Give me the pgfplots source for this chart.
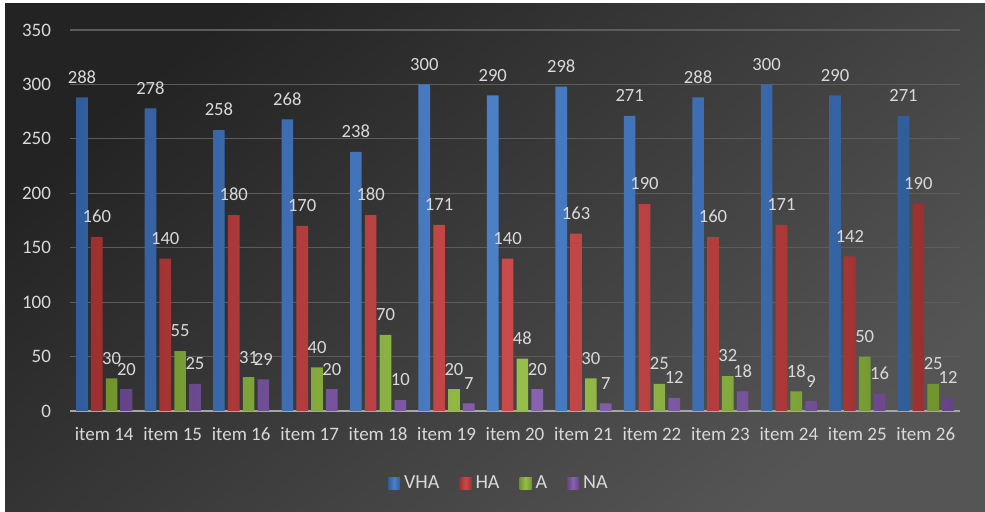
\documentclass[border=0pt]{standalone}
\usepackage{fontspec}
\setmainfont{Carlito}
\usepackage{pgfplots}
\pgfplotsset{compat=1.18}
\definecolor{bgA}{HTML}{232323}
\definecolor{bgB}{HTML}{555555}
\definecolor{txt}{HTML}{D9D9D9}
\definecolor{gridc}{HTML}{5C5C5C}
\definecolor{axc}{HTML}{A6A6A6}
\definecolor{cVHA}{HTML}{3C74C2}
\definecolor{cHA}{HTML}{C43B3B}
\definecolor{cA}{HTML}{8DB93A}
\definecolor{cNA}{HTML}{7D55A8}
\pgfplotsset{
  mybar/.style={draw=none,
    left color=#1!80!black, right color=#1!80!black, middle color=#1!92!white,
    legend image code/.code={\fill[#1] (0pt,-3pt) rectangle (6pt,3pt);}},
}
\begin{document}
\begin{tikzpicture}
\fill[white] (0,0) rectangle (492.5pt,256pt);
\shade[top color=bgA, bottom color=bgB, shading angle=40] (2.5pt,0) rectangle (492.5pt,254pt);
\begin{axis}[
  at={(35pt,50.5pt)}, anchor=south west,
  scale only axis, width=445pt, height=190.5pt,
  ybar=1.6pt, bar width=0.17,
  xmin=-0.5, xmax=12.5, ymin=0, ymax=350,
  ytick={0,50,...,350},
  xtick={0,...,12},
  xticklabels={item 14,item 15,item 16,item 17,item 18,item 19,item 20,item 21,item 22,item 23,item 24,item 25,item 26},
  axis x line*=bottom, axis y line*=left,
  y axis line style={draw=none},
  x axis line style={draw=axc, line width=1.2pt},
  major tick length=0pt,
  ymajorgrids, grid style={draw=gridc, line width=0.6pt},
  /pgf/number format/assume math mode=true,
  ticklabel style={font=\fontsize{9.5}{11}\selectfont, text=txt},
  xticklabel style={yshift=-4.5pt},
  yticklabel style={xshift=-6pt},
  nodes near coords,
  nodes near coords style={font=\fontsize{9.3}{10}\selectfont, text=txt, yshift=3.5pt},
  legend style={at={(0.483,-0.19)}, anchor=center, draw=none, fill=none,
    text=txt, font=\fontsize{10}{12}\selectfont,
    /tikz/every even column/.append style={column sep=8pt}},
  legend columns=-1,
  clip=false,
]
\addplot[mybar=cVHA] coordinates {(0,288) (1,278) (2,258) (3,268) (4,238) (5,300) (6,290) (7,298) (8,271) (9,288) (10,300) (11,290) (12,271)};
\addplot[mybar=cHA] coordinates {(0,160) (1,140) (2,180) (3,170) (4,180) (5,171) (6,140) (7,163) (8,190) (9,160) (10,171) (11,142) (12,190)};
\addplot[mybar=cA] coordinates {(0,30) (1,55) (2,31) (3,40) (4,70) (5,20) (6,48) (7,30) (8,25) (9,32) (10,18) (11,50) (12,25)};
\addplot[mybar=cNA] coordinates {(0,20) (1,25) (2,29) (3,20) (4,10) (5,7) (6,20) (7,7) (8,12) (9,18) (10,9) (11,16) (12,12)};
\legend{VHA,HA,A,NA}
\end{axis}
\end{tikzpicture}
\end{document}
